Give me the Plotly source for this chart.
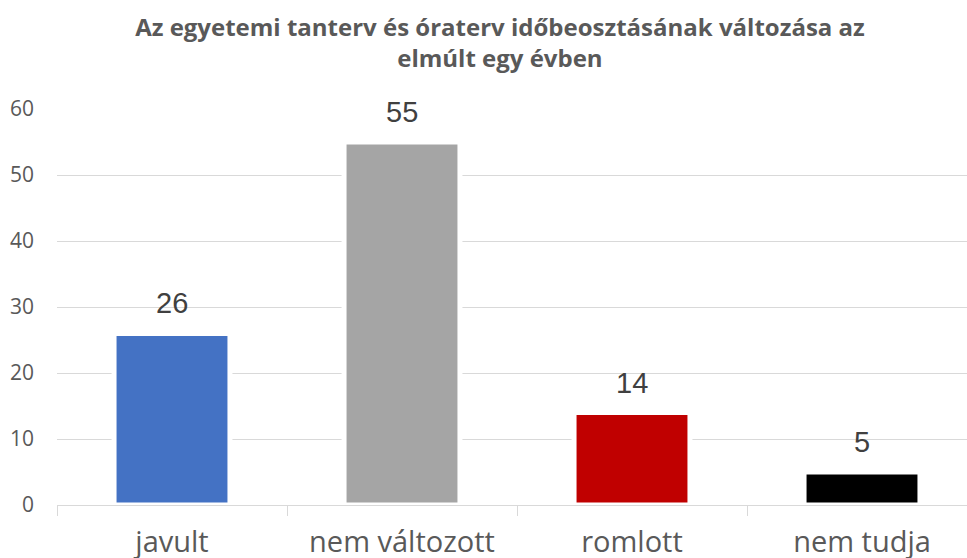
import plotly.graph_objects as go

# chart data
CATEGORIES = ["javult", "nem változott", "romlott", "nem tudja"]
VALUES = [26, 55, 14, 5]
COLORS = ["#4472C4", "#A5A5A5", "#C00000", "#000000"]
TITLE = "Az egyetemi tanterv és óraterv időbeosztásának változása az<br>elmúlt egy évben"
Y_TICKS = [0, 10, 20, 30, 40, 50, 60]

GREY_TEXT = "#595959"
GRID = "#D9D9D9"


def main():
    fig = go.Figure()
    fig.add_trace(go.Bar(
        x=CATEGORIES, y=VALUES,
        marker=dict(color=COLORS, line=dict(color="white", width=5)),
        hoverinfo="x+y",
    ))

    # data labels above bars
    for cat, val in zip(CATEGORIES, VALUES):
        fig.add_annotation(
            x=cat, y=val, text=str(val), showarrow=False,
            yanchor="bottom", yshift=12,
            font=dict(family="Liberation Sans", size=29, color="#404040"),
        )

    fig.update_layout(
        width=967, height=558,
        margin=dict(l=57, r=0, t=109, b=53),
        plot_bgcolor="white", paper_bgcolor="white",
        bargap=0.496,
        showlegend=False,
        title=dict(
            text="<b>" + TITLE + "</b>",
            x=0.517, xanchor="center", y=1 - 36 / 558, yanchor="top",
            font=dict(family="Open Sans", size=24, color=GREY_TEXT),
        ),
    )
    fig.update_xaxes(
        range=[-0.5, 3.4565],
        showline=True, linecolor=GRID, linewidth=1,
        ticks="outside", tickson="boundaries", ticklen=10, tickcolor=GRID,
        showgrid=False, automargin=False,
        ticklabelstandoff=11,
        tickfont=dict(family="Open Sans", size=29, color=GREY_TEXT),
    )
    fig.update_yaxes(
        range=[0, 60], tickvals=Y_TICKS,
        showgrid=True, gridcolor=GRID, gridwidth=1,
        zeroline=False, showline=False, automargin=False,
        ticklabelstandoff=22,
        tickfont=dict(family="Open Sans", size=21, color=GREY_TEXT),
    )

    # drop the default page margin so the chart sits at the window's corner
    fig.write_html("out.html", config={"displayModeBar": False},
                   post_script="document.body.style.margin='0';")


if __name__ == "__main__":
    main()
